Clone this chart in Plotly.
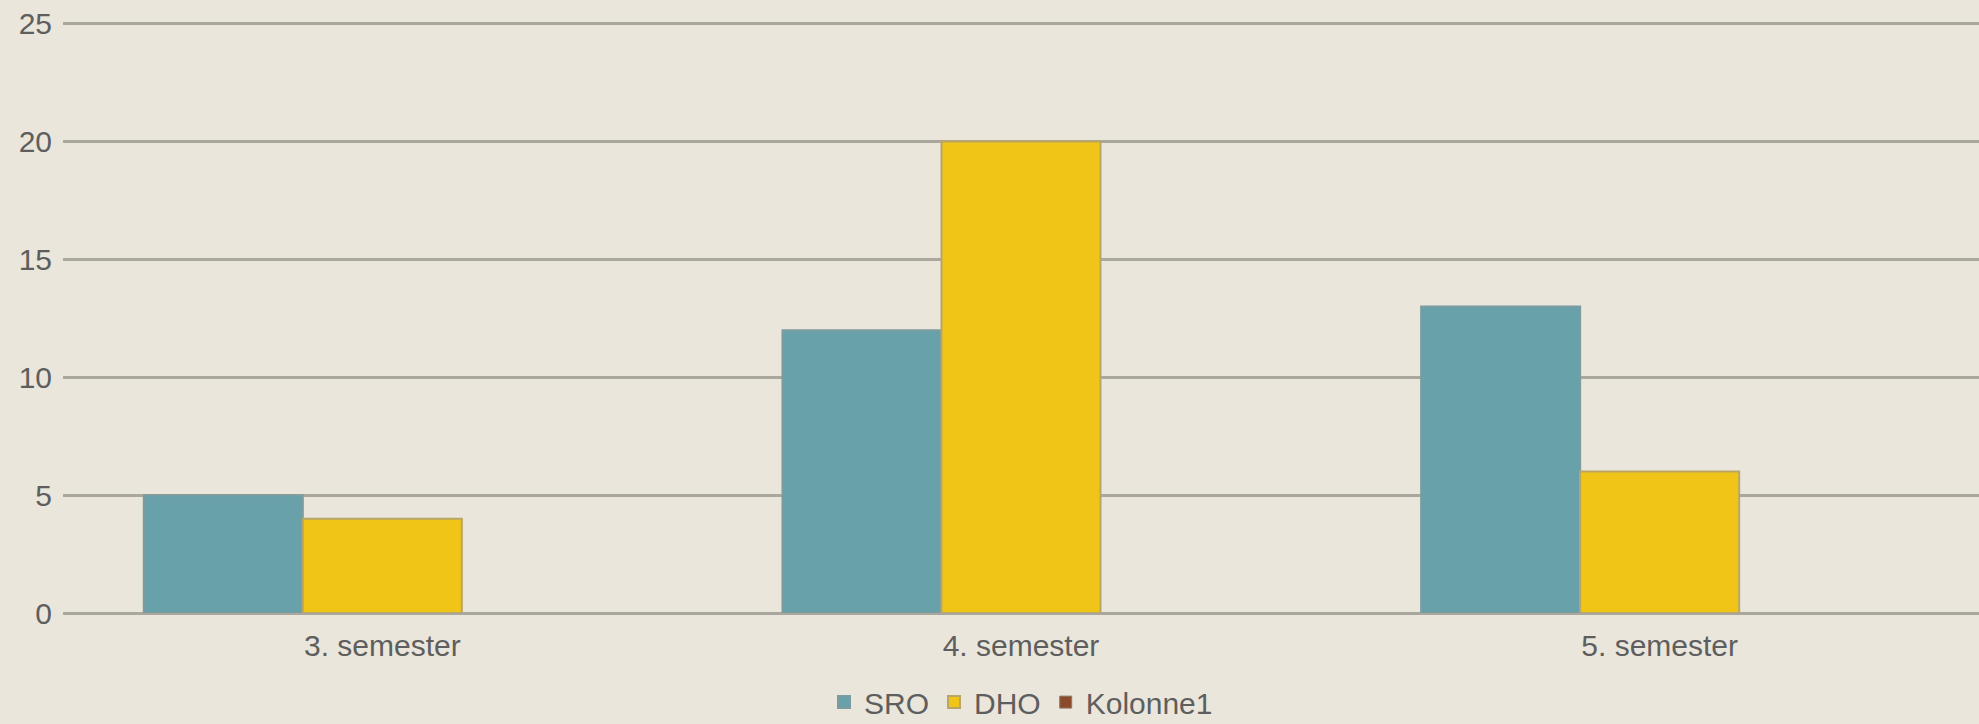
import plotly.graph_objects as go

categories = ["3. semester", "4. semester", "5. semester"]
sro = [5, 12, 13]
dho = [4, 20, 6]
kolonne1 = [None, None, None]
y_ticks = [0, 5, 10, 15, 20, 25]

BG = "#EAE6DC"
GRID = "#AAA79F"
TXT = "#5E5E5E"
FONT = "Liberation Sans, Arial, sans-serif"

fig = go.Figure()
fig.add_trace(go.Bar(name="SRO", x=categories, y=sro,
                     marker=dict(color="#68A1AA", line=dict(color="#7D9C9F", width=2))))
fig.add_trace(go.Bar(name="DHO", x=categories, y=dho,
                     marker=dict(color="#F1C418", line=dict(color="#B9A665", width=2))))
fig.add_trace(go.Bar(name="Kolonne1", x=categories, y=kolonne1,
                     marker=dict(color="#8B4A2B", line=dict(color="#8E7A6E", width=1))))

fig.update_layout(
    width=1979, height=724,
    paper_bgcolor=BG, plot_bgcolor=BG,
    margin=dict(l=63, r=0, t=19, b=111, autoexpand=False),
    barmode="group", bargap=0.253, bargroupgap=0,
    font=dict(family=FONT, size=30, color=TXT),
    showlegend=True,
    legend=dict(orientation="h", x=0.5, xanchor="center", y=-0.15, yanchor="middle",
                font=dict(family=FONT, size=30, color=TXT), bgcolor="rgba(0,0,0,0)",
                itemclick=False, tracegroupgap=0),
    xaxis=dict(showgrid=False, showline=False, zeroline=False, automargin=False,
               tickfont=dict(family=FONT, size=30, color=TXT), ticks="outside",
               ticklen=6, tickcolor="rgba(0,0,0,0)"),
    yaxis=dict(range=[0, 25.2], tickvals=y_ticks, showgrid=True, gridcolor=GRID, gridwidth=3,
               zeroline=True, zerolinecolor=GRID, zerolinewidth=3, showline=False,
               automargin=False,
               tickfont=dict(family=FONT, size=30, color=TXT), ticklabelstandoff=10),
)

fig.write_html("out.html", config={"displayModeBar": False},
               post_script="document.body.style.margin='0';")
